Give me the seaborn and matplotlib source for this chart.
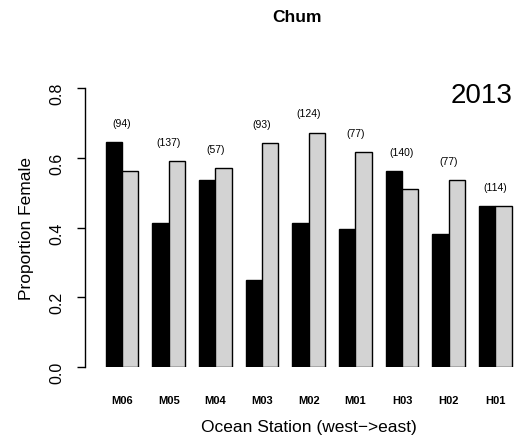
import pandas as pd
import matplotlib
matplotlib.use("Agg")
import matplotlib.pyplot as plt
import seaborn as sns

# Stations from west to east
stations = ["M06", "M05", "M04", "M03", "M02", "M01", "H03", "H02", "H01"]
# Proportion female, first (black) and second (grey) bar of each station
prop_black = [0.644, 0.414, 0.537, 0.250, 0.414, 0.397, 0.562, 0.382, 0.462]
prop_grey = [0.561, 0.591, 0.570, 0.641, 0.672, 0.617, 0.510, 0.536, 0.462]
# Sample sizes shown above each pair
sample_n = [94, 137, 57, 93, 124, 77, 140, 77, 114]

df = pd.concat([
    pd.DataFrame({"station": stations, "prop": prop_black, "set": "A"}),
    pd.DataFrame({"station": stations, "prop": prop_grey, "set": "B"}),
])

sns.set_style("white")
plt.rcParams["font.family"] = ["Liberation Sans", "DejaVu Sans"]
plt.rcParams["text.color"] = "black"
plt.rcParams["axes.labelcolor"] = "black"
plt.rcParams["xtick.color"] = "black"
plt.rcParams["ytick.color"] = "black"

W, H = 523, 439
fig = plt.figure(figsize=(W / 100, H / 100), dpi=100)
# axes placed in pixel terms: left, bottom, width, height
ax = fig.add_axes([98.7 / W, (H - 368) / H, 420 / W, 279 / H])

sns.barplot(data=df, x="station", y="prop", hue="set", order=stations,
            palette=["black", "#d3d3d3"], edgecolor="black", linewidth=1,
            width=0.7, gap=0, legend=False, ax=ax)

for i, n in enumerate(sample_n):
    top = max(prop_black[i], prop_grey[i])
    ax.text(i, top + 0.055, f"({n})", ha="center", va="center",
            fontsize=7.5, clip_on=False)

ax.set_xlim(-0.5, 8.5)
ax.set_ylim(0, 0.8)
ax.set_yticks([0.0, 0.2, 0.4, 0.6, 0.8])
ax.set_yticklabels(["0.0", "0.2", "0.4", "0.6", "0.8"])
ax.tick_params(axis="y", length=6, width=1, direction="out", pad=9, left=True,
               labelsize=11.5, labelrotation=90)
for lbl in ax.get_yticklabels():
    lbl.set_verticalalignment("center")
ax.tick_params(axis="x", length=0, pad=20)
for lbl in ax.get_xticklabels():
    lbl.set_fontsize(8)
    lbl.set_fontweight("bold")

for s in ["top", "right", "bottom"]:
    ax.spines[s].set_visible(False)
ax.spines["left"].set_position(("outward", 10))
ax.spines["left"].set_linewidth(1)
ax.spines["left"].set_color("black")

ax.set_ylabel("Proportion Female", fontsize=12.5, labelpad=11)
ax.set_xlabel("Ocean Station (west\u2212>east)", fontsize=12.5, labelpad=10)

ax.text(0.985, 0.975, "2013", transform=ax.transAxes, ha="right", va="center",
        fontsize=20)
fig.text(297 / W, 1 - 17 / H, "Chum", ha="center", va="center",
         fontsize=12.5, fontweight="bold")

fig.savefig("out.png", dpi=100, facecolor="white")
